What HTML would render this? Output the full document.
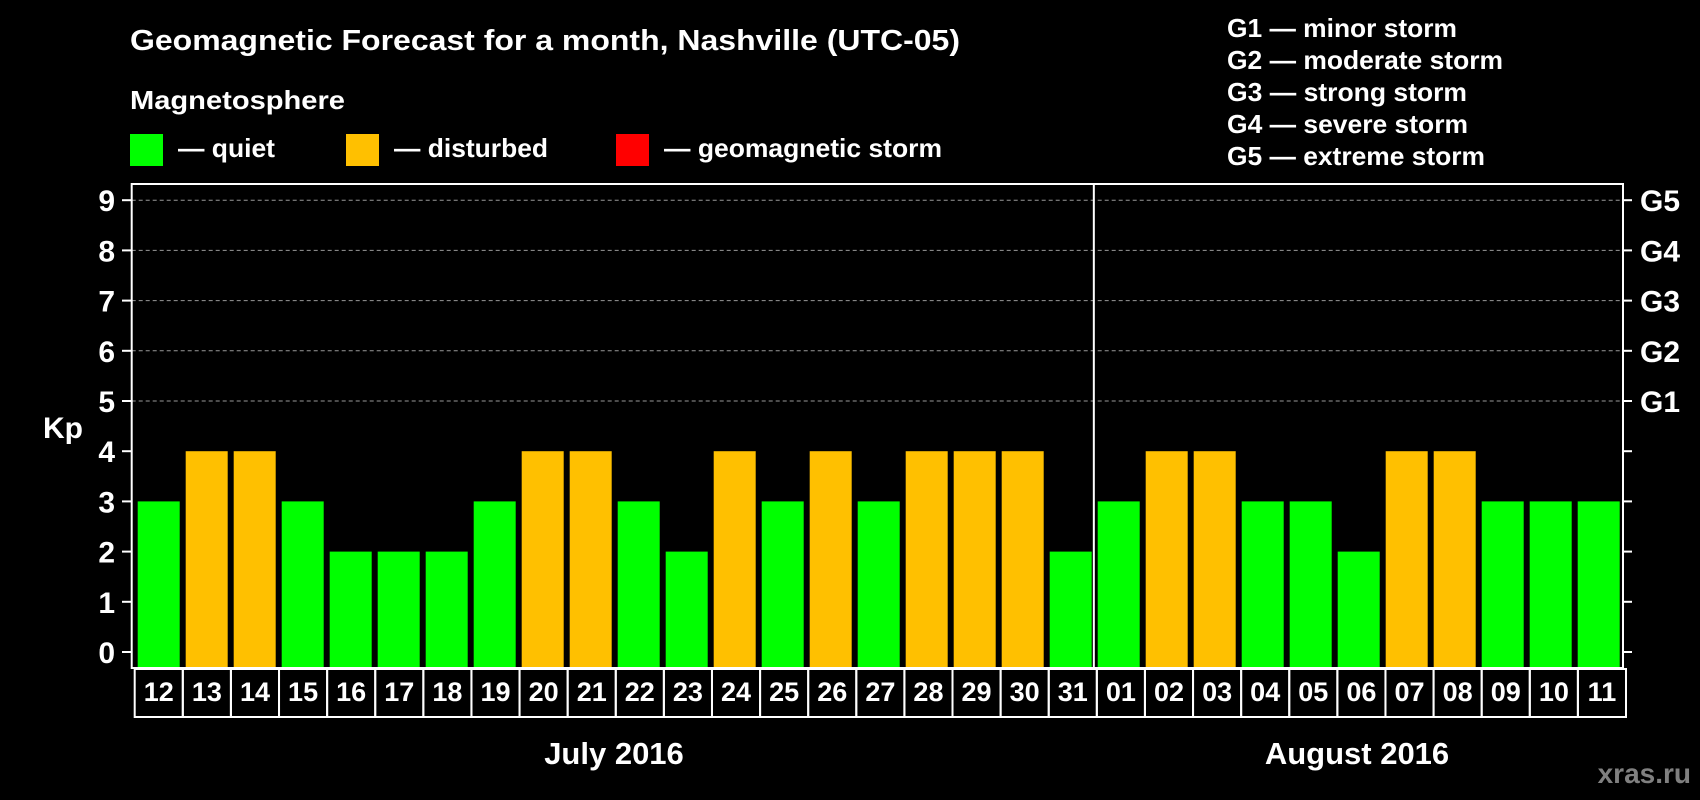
<!DOCTYPE html>
<html><head><meta charset="utf-8"><style>
html,body{margin:0;padding:0;background:#000;}
svg{display:block;font-family:"Liberation Sans",Arial,sans-serif;font-weight:bold;}
</style></head><body>
<svg id="chart" width="1700" height="800" viewBox="0 0 1700 800">
<rect width="1700" height="800" fill="#000"/>
<text x="130" y="50" fill="#fff" font-size="29" textLength="830" lengthAdjust="spacingAndGlyphs">Geomagnetic Forecast for a month, Nashville (UTC-05)</text>
<text x="130" y="109" fill="#fff" font-size="26" textLength="215" lengthAdjust="spacingAndGlyphs">Magnetosphere</text>
<g><rect x="130" y="134" width="33" height="32" fill="#00ff00"/><text x="178" y="157" fill="#fff" font-size="26" textLength="97" lengthAdjust="spacingAndGlyphs">— quiet</text></g>
<g><rect x="346" y="134" width="33" height="32" fill="#ffc000"/><text x="394" y="157" fill="#fff" font-size="26" textLength="154" lengthAdjust="spacingAndGlyphs">— disturbed</text></g>
<g><rect x="616" y="134" width="33" height="32" fill="#ff0000"/><text x="664" y="157" fill="#fff" font-size="26" textLength="278" lengthAdjust="spacingAndGlyphs">— geomagnetic storm</text></g>
<g fill="#fff" font-size="26" lengthAdjust="spacingAndGlyphs">
<text x="1227" y="37" textLength="230" lengthAdjust="spacingAndGlyphs">G1 — minor storm</text>
<text x="1227" y="69" textLength="276" lengthAdjust="spacingAndGlyphs">G2 — moderate storm</text>
<text x="1227" y="101" textLength="240" lengthAdjust="spacingAndGlyphs">G3 — strong storm</text>
<text x="1227" y="133" textLength="241" lengthAdjust="spacingAndGlyphs">G4 — severe storm</text>
<text x="1227" y="165" textLength="258" lengthAdjust="spacingAndGlyphs">G5 — extreme storm</text>
</g>
<text x="43" y="438" fill="#fff" font-size="30">Kp</text>
<g id="plot"></g>
<text x="614" y="764" fill="#fff" font-size="31" text-anchor="middle">July 2016</text>
<text x="1357" y="764" fill="#fff" font-size="31" text-anchor="middle">August 2016</text>
<text x="1691" y="783" fill="#808080" font-size="28" text-anchor="end">xras.ru</text>
</svg>
<script>
const days = ["12","13","14","15","16","17","18","19","20","21","22","23","24","25","26","27","28","29","30","31","01","02","03","04","05","06","07","08","09","10","11"];
const kpValues = [3,4,4,3,2,2,2,3,4,4,3,2,4,3,4,3,4,4,4,2,3,4,4,3,3,2,4,4,3,3,3];
const yTicks = [0,1,2,3,4,5,6,7,8,9];
const gLabels = ["G1","G2","G3","G4","G5"];
const gLevels = [5,6,7,8,9];

const NS = "http://www.w3.org/2000/svg";
const g = document.getElementById('plot');
const L = 131.7, R = 1623, T = 184, B = 668;
const slot = (R - L) / days.length;
const pitch = 48.0;
const y = v => 652 - v * 50.2;
const x = i => L + i * slot;
const bx = i => L + 6 + i * pitch;
function mk(tag, attrs) { const e = document.createElementNS(NS, tag); for (const k in attrs) e.setAttribute(k, attrs[k]); g.appendChild(e); return e; }

gLevels.forEach((v, i) => {
  const ln = mk('line', {x1: L, x2: R, y1: y(v), y2: y(v), stroke: '#999', 'stroke-width': 1, 'stroke-dasharray': '4,3'});
  
  
  const t = mk('text', {x: 1640, y: y(v) + 11, fill: '#fff', 'font-size': 30});
  t.textContent = gLabels[i];
  
  
});
yTicks.forEach(v => {
  mk('line', {x1: 122, x2: L, y1: y(v), y2: y(v), stroke: '#fff', 'stroke-width': 2});
  mk('line', {x1: R, x2: 1632, y1: y(v), y2: y(v), stroke: '#fff', 'stroke-width': 2});
  const t = mk('text', {x: 115, y: y(v) + 11, fill: '#fff', 'font-size': 30, 'text-anchor': 'end'});
  t.textContent = v;
  
  
});
kpValues.forEach((v, i) => {
  const col = v >= 5 ? '#ff0000' : (v >= 4 ? '#ffc000' : '#00ff00');
  const r = mk('rect', {x: bx(i), y: y(v), width: 42, height: B - y(v), fill: col});
  
  
  const c = mk('rect', {x: x(i) + 3, y: B + 1, width: slot, height: 48, fill: 'none', stroke: '#fff', 'stroke-width': 2});
  
  
  const t = mk('text', {x: x(i) + 3 + slot / 2, y: 701, fill: '#fff', 'font-size': 27, 'text-anchor': 'middle'});
  t.textContent = days[i];
  
  
});
const fr = mk('rect', {x: L, y: T, width: R - L, height: B - T, fill: 'none', stroke: '#fff', 'stroke-width': 2});


const di = days.indexOf("01");
const dv = mk('line', {x1: x(di), x2: x(di), y1: T, y2: B, stroke: '#fff', 'stroke-width': 2});


</script>
</body></html>
